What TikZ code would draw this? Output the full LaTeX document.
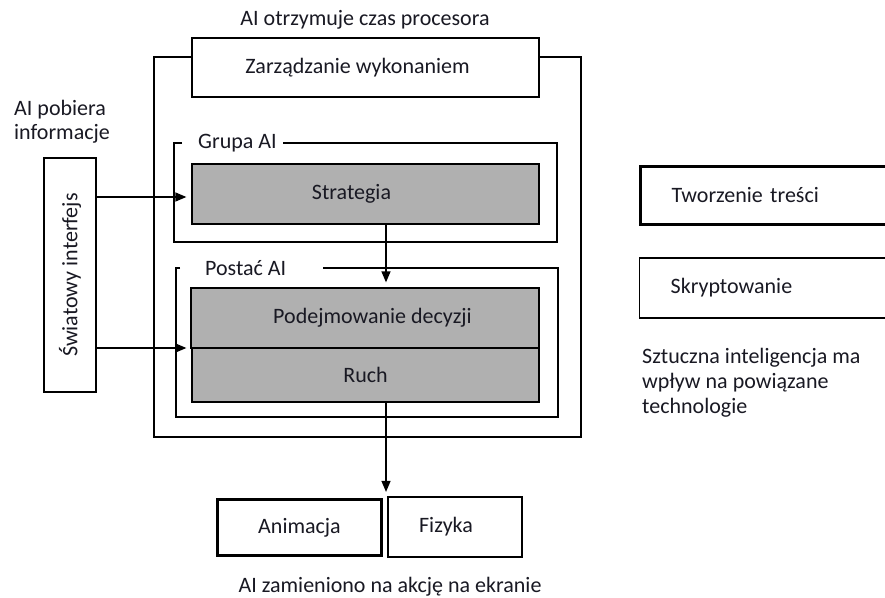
\documentclass[tikz,border=0pt]{standalone}
\usepackage{fontspec}
\setmainfont{Carlito}
\usetikzlibrary{arrows.meta}
\definecolor{boxgray}{RGB}{176,176,176}
\definecolor{ink}{RGB}{25,25,35}
\begin{document}
\begin{tikzpicture}[x=1pt,y=-1pt,
  every node/.style={font=\fontsize{22}{24}\selectfont, text=ink},
  plainbox/.style={draw=black, line width=1.3pt, inner sep=0pt},
  thickbox/.style={draw=black, line width=3.2pt, inner sep=0pt},
  graybox/.style={plainbox, fill=boxgray},
  frameline/.style={draw=black, line width=1.3pt},
  arr/.style={draw=black, line width=1.3pt, -{Triangle[length=11pt,width=9pt]}},
  plaintext/.style={inner sep=0pt}
]
\useasboundingbox (0,0) rectangle (885,597);
\clip (0,0) rectangle (885,597);
\fill[white] (0,0) rectangle (885,597);

% title
\node[plaintext, anchor=base] (title) at (365,25) {AI otrzymuje czas procesora};

% execution management and outer frame
\coordinate (otop) at (0,57);
\coordinate (obot) at (0,437);
\coordinate (oleft) at (154,0);
\coordinate (oright) at (581,0);
\node[plainbox, fill=white, minimum width=347pt, minimum height=59pt] (zar) at (365.5,67.5) {\hspace*{-16pt}Zarządzanie wykonaniem};
\draw[frameline] (zar.west |- otop) -- (oleft |- otop) -- (oleft |- obot) -- (oright |- obot) -- (oright |- otop) -- (zar.east |- otop);

% group AI
\node[plaintext, anchor=west] (grpl) at (198,143) {Grupa AI};
\draw[frameline] (182,143) -| (174,242) -| (557,143) -- (283,143);
\node[graybox, minimum width=347pt, minimum height=60pt] (strat) at (365.5,194) {\hspace*{-28pt}Strategia};

% character AI
\node[plaintext, anchor=west] (posl) at (205,268) {Postać AI};
\draw[frameline] (180,268) -| (176,417) -| (558,268) -- (323,268);
\node[graybox, minimum width=348pt, minimum height=60pt] (pod) at (365,318) {\hspace*{15pt}Podejmowanie decyzji};
\node[graybox, minimum width=347pt, minimum height=54pt] (ruch) at (365.5,375) {Ruch};

% world interface
\node[plaintext, anchor=north west, align=left] (pob) at (14,100) {AI pobiera\\informacje};
\node[plainbox, minimum width=52pt, minimum height=234pt] (swiat) at (70,275) {\rotatebox{90}{Światowy interfejs}};

% right side
\node[thickbox, anchor=west, minimum height=58pt, text width=220pt, align=left, inner xsep=31.5pt] (tw) at (638.5,195.5) {Tworzenie treści};
\node[plainbox, anchor=west, minimum height=60pt, text width=220pt, align=left, inner xsep=31pt] (skr) at (639,288) {Skryptowanie};
\node[plaintext, anchor=north west, align=left, font=\fontsize{22}{25}\selectfont] (szt) at (642,348) {Sztuczna inteligencja ma\\wpływ na powiązane\\technologie};

% bottom
\node[thickbox, minimum width=164pt, minimum height=56pt] (anim) at (299.5,527.5) {Animacja};
\node[plainbox, minimum width=134pt, minimum height=60pt] (fiz) at (455,527) {\hspace*{-18pt}Fizyka};
\node[plaintext, anchor=base] (akc) at (390,592) {AI zamieniono na akcję na ekranie};

% connectors
\coordinate (ax) at (386,0);
\coordinate (a1) at (0,197);
\coordinate (a2) at (0,348);
\draw[arr, shorten >=5pt] (strat.south -| ax) -- (pod.north -| ax);
\draw[arr, shorten >=6pt] (ruch.south -| ax) -- (anim.north -| ax);
\draw[arr, shorten >=5pt] (swiat.east |- a1) -- (strat.west |- a1);
\draw[arr, shorten >=4pt] (swiat.east |- a2) -- (pod.west |- a2);
\end{tikzpicture}
\end{document}
